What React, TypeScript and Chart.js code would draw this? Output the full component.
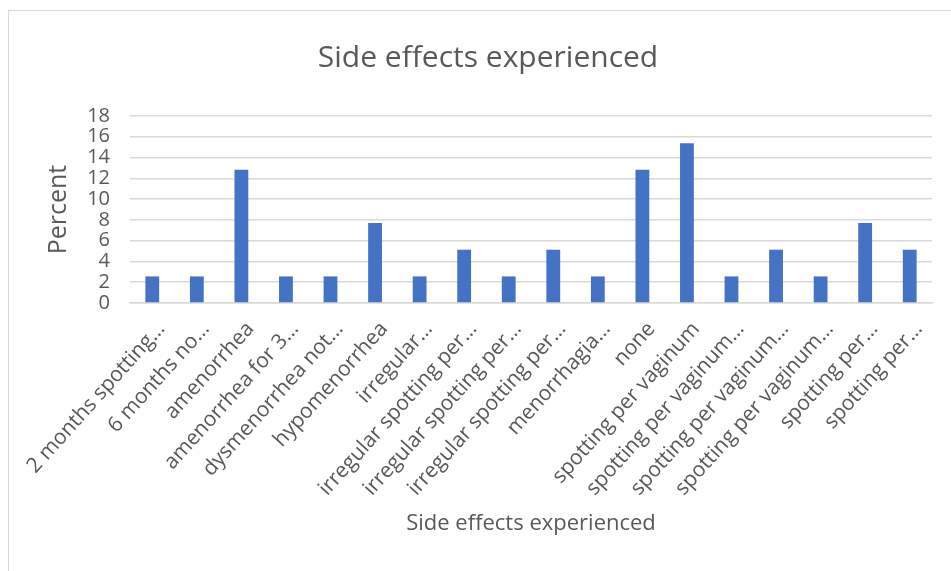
import React, { useEffect, useRef } from "react";
import { Chart, registerables } from "chart.js";

Chart.register(...registerables);

const categories: string[] = [
  "2 months spotting…",
  "6 months no…",
  "amenorrhea",
  "amenorrhea for 3…",
  "dysmenorrhea not…",
  "hypomenorrhea",
  "irregular…",
  "irregular spotting per…",
  "irregular spotting per…",
  "irregular spotting per…",
  "menorrhagia…",
  "none",
  "spotting per vaginum",
  "spotting per vaginum…",
  "spotting per vaginum…",
  "spotting per vaginum…",
  "spotting per…",
  "spotting per…",
];

const percentValues: number[] = [
  2.56, 2.56, 12.82, 2.56, 2.56, 7.69, 2.56, 5.13, 2.56, 5.13, 2.56, 12.82, 15.38, 2.56, 5.13, 2.56, 7.69, 5.13,
];

const yTicks: number[] = [0, 2, 4, 6, 8, 10, 12, 14, 16, 18];

const chartTitle = "Side effects experienced";
const xAxisTitle = "Side effects experienced";
const yAxisTitle = "Percent";

const FONT = "'Open Sans', 'Noto Sans', sans-serif";
const TEXT = "#595959";

export default function App() {
  const ref = useRef<HTMLCanvasElement | null>(null);

  useEffect(() => {
    if (!ref.current) return;
    const chart = new Chart(ref.current, {
      type: "bar",
      data: {
        labels: categories,
        datasets: [
          {
            label: "Percent",
            data: percentValues,
            backgroundColor: "#4472C4",
            borderWidth: 0,
            barPercentage: 0.31,
            categoryPercentage: 1,
          },
        ],
      },
      options: {
        responsive: false,
        animation: false,
        devicePixelRatio: 1,
        layout: { padding: { left: 44, right: 19, top: 0, bottom: 34 } },
        plugins: {
          legend: { display: false },
          tooltip: { enabled: false },
          title: {
            display: true,
            text: chartTitle,
            color: TEXT,
            font: { family: FONT, size: 30, weight: "normal" },
            padding: { top: 40, bottom: 40 },
          },
        },
        scales: {
          x: {
            afterFit: (axis: any) => {
              axis.height = 234;
              axis.paddingLeft = 0;
              axis.paddingRight = 0;
            },
            grid: { display: false, drawTicks: false },
            border: { display: true, color: "#d9d9d9", width: 1.5 },
            ticks: {
              color: TEXT,
              font: { family: FONT, size: 21 },
              minRotation: 48,
              maxRotation: 48,
              autoSkip: false,
              padding: 14,
              labelOffset: 9,
            },
            title: {
              display: true,
              text: xAxisTitle,
              color: TEXT,
              font: { family: FONT, size: 22 },
              padding: { top: 6, bottom: 0 },
            },
          },
          y: {
            min: 0,
            max: 18,
            afterFit: (axis: any) => {
              axis.width = 86;
            },
            afterBuildTicks: (axis: any) => {
              axis.ticks = yTicks.map((v) => ({ value: v }));
            },
            grid: { color: "#d9d9d9", lineWidth: 1.5, drawTicks: false },
            border: { display: false },
            ticks: {
              color: TEXT,
              font: { family: FONT, size: 20, lineHeight: 1 },
              padding: 20,
              autoSkip: false,
            },
            title: {
              display: true,
              text: yAxisTitle,
              color: TEXT,
              font: { family: FONT, size: 25 },
              padding: { top: 0, bottom: 11 },
            },
          },
        },
      },
    });
    return () => chart.destroy();
  }, []);

  return (
    <div style={{ position: "absolute", left: 0, top: 0, width: 951, height: 571, overflow: "hidden", background: "#fff" }}>
      <div
        style={{
          position: "absolute",
          left: 8,
          top: 10,
          width: 1000,
          height: 700,
          border: "1.5px solid #d9d9d9",
          boxSizing: "border-box",
        }}
      />
      <canvas ref={ref} width={951} height={571} style={{ position: "absolute", left: 0, top: 0 }} />
    </div>
  );
}
